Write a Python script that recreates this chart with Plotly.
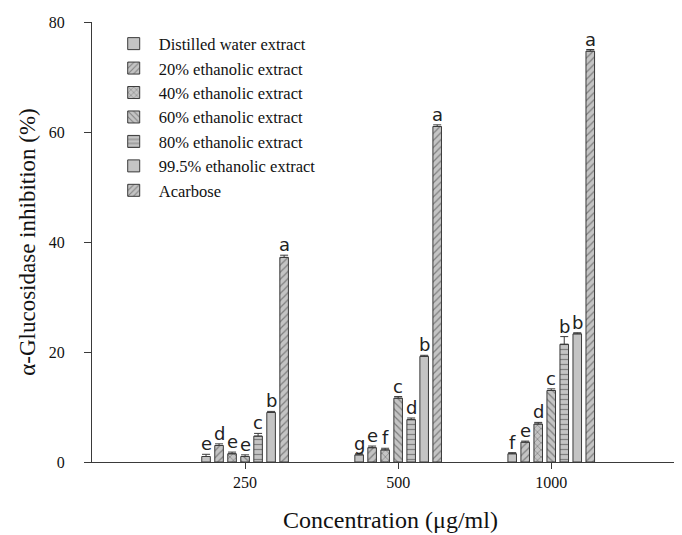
import plotly.graph_objects as go

concentrations = ["250", "500", "1000"]
series_names = ["Distilled water extract", "20% ethanolic extract", "40% ethanolic extract",
                "60% ethanolic extract", "80% ethanolic extract", "99.5% ethanolic extract", "Acarbose"]
distilled = [1.0, 1.3, 1.5]
eth20 = [3.0, 2.6, 3.6]
eth40 = [1.5, 2.2, 6.9]
eth60 = [1.0, 11.6, 13.0]
eth80 = [4.7, 7.7, 21.4]
eth995 = [9.0, 19.2, 23.3]
acarbose = [37.2, 61.0, 74.7]
err_distilled = [0.4, 0.2, 0.2]
err_eth20 = [0.3, 0.3, 0.2]
err_eth40 = [0.3, 0.3, 0.3]
err_eth60 = [0.3, 0.3, 0.3]
err_eth80 = [0.5, 0.3, 1.4]
err_eth995 = [0.2, 0.2, 0.2]
err_acarbose = [0.4, 0.3, 0.3]
lbl_distilled = ["e", "g", "f"]
lbl_eth20 = ["d", "e", "e"]
lbl_eth40 = ["e", "f", "d"]
lbl_eth60 = ["e", "c", "c"]
lbl_eth80 = ["c", "d", "b"]
lbl_eth995 = ["b", "b", "b"]
lbl_acarbose = ["a", "a", "a"]

values = [distilled, eth20, eth40, eth60, eth80, eth995, acarbose]
errors = [err_distilled, err_eth20, err_eth40, err_eth60, err_eth80, err_eth995, err_acarbose]
letters = [lbl_distilled, lbl_eth20, lbl_eth40, lbl_eth60, lbl_eth80, lbl_eth995, lbl_acarbose]
patterns = ["", "/", "x", "\\", "-", "", "/"]

FILL = "#c4c4c4"
DARK = "#3a3a3a"
step = 0.085
bw = 0.056

fig = go.Figure()
annotations = []
for j, name in enumerate(series_names):
    xs = [i + (j - 3) * step for i in range(len(concentrations))]
    fig.add_trace(go.Bar(
        x=xs, y=values[j], width=bw, name=name,
        marker=dict(color=FILL, line=dict(color=DARK, width=1),
                    pattern=dict(shape=patterns[j], fgcolor=DARK, bgcolor=FILL,
                                 size=5, solidity=0.25)),
        error_y=dict(type="data", array=errors[j], arrayminus=[0] * 3, symmetric=False,
                     color=DARK, thickness=1, width=4),
    ))
    for i in range(len(concentrations)):
        annotations.append(dict(x=xs[i], y=values[j][i] + errors[j][i], text=letters[j][i],
                                showarrow=False, yanchor="bottom", yshift=-2,
                                font=dict(family="DejaVu Sans", size=18, color="#222")))

fig.update_layout(
    width=682, height=535,
    margin=dict(l=84, r=1, t=14, b=81),
    paper_bgcolor="white", plot_bgcolor="white",
    barmode="overlay",
    showlegend=True,
    legend=dict(x=0.028, y=0.99, xanchor="left", yanchor="top",
                bgcolor="rgba(0,0,0,0)", tracegroupgap=0, itemwidth=40,
                font=dict(family="Liberation Serif", size=16.5, color="#111")),
    annotations=annotations,
    font=dict(family="Liberation Serif", color="#111"),
)
fig.update_xaxes(range=[-1, 2.9], tickvals=list(range(len(concentrations))), ticktext=concentrations,
                 showgrid=False, zeroline=False, showline=True, linecolor=DARK, linewidth=1,
                 ticks="outside", ticklen=6, tickcolor=DARK,
                 tickfont=dict(family="Liberation Serif", size=16),
                 title=dict(text="Concentration (μg/ml)", standoff=20,
                            font=dict(family="Liberation Serif", size=24)))
fig.update_yaxes(range=[0, 80], tickvals=[0, 20, 40, 60, 80],
                 showgrid=False, zeroline=False, showline=True, linecolor=DARK, linewidth=1,
                 ticks="outside", ticklen=7, tickcolor=DARK, ticklabelstandoff=16,
                 tickfont=dict(family="Liberation Serif", size=16),
                 title=dict(text="α-Glucosidase inhibition (%)", standoff=6,
                            font=dict(family="Liberation Serif", size=23)))

fig.write_html("out.html")
